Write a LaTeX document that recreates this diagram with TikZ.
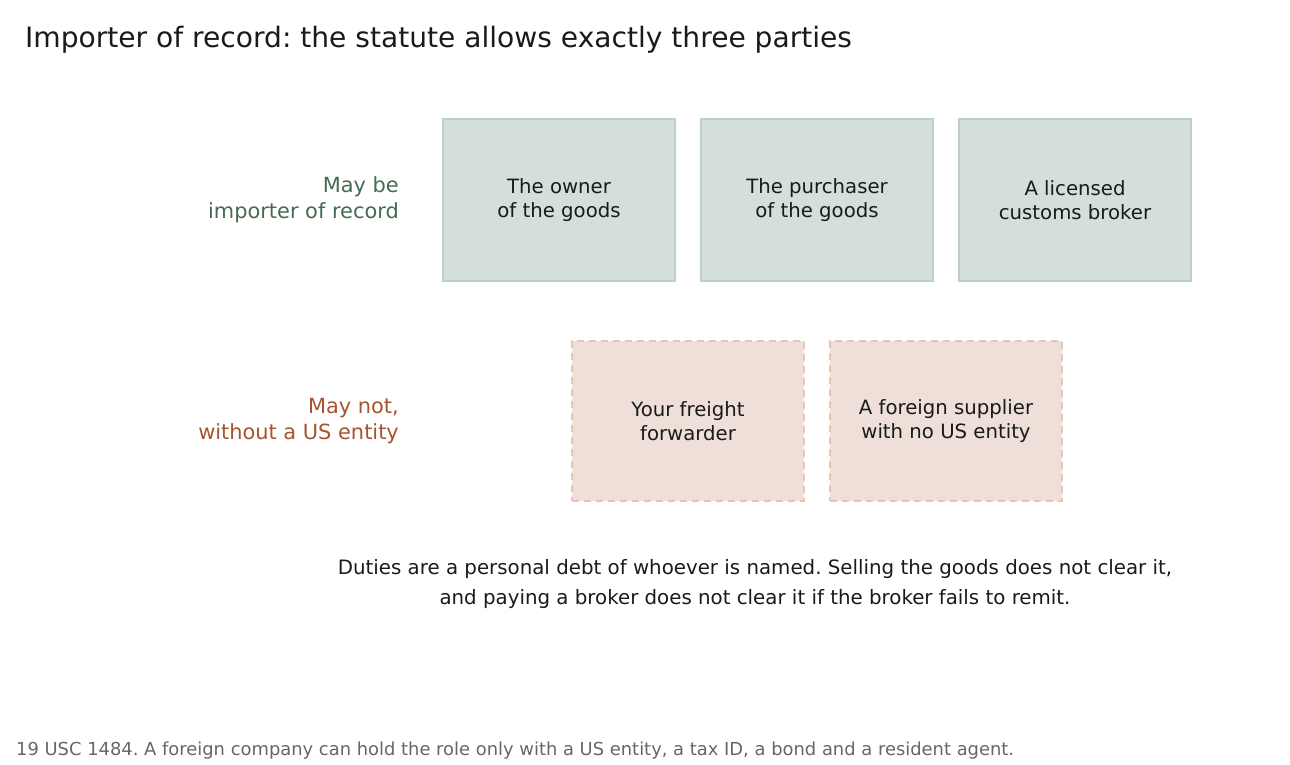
\documentclass[tikz,border=0pt]{standalone}
\usepackage{fontspec}
\setmainfont{DejaVu Sans}
\frenchspacing
\definecolor{gfill}{HTML}{D4DFD9}
\definecolor{gline}{HTML}{BFCFC6}
\definecolor{rfill}{HTML}{EEE0D8}
\definecolor{rline}{HTML}{E4C5B6}
\definecolor{gtext}{HTML}{466B52}
\definecolor{rtext}{HTML}{A8532C}
\definecolor{ink}{HTML}{1A1A1A}
\definecolor{foot}{HTML}{666666}
\tikzset{
  okbox/.style={draw=gline, fill=gfill, line width=2pt, minimum width=232pt, minimum height=161pt, align=center, font=\fontsize{19.7}{24}\selectfont, text=ink, inner sep=0pt},
  nobox/.style={draw=rline, fill=rfill, line width=2.2pt, dash pattern=on 7pt off 5pt, minimum width=232pt, minimum height=160pt, align=center, font=\fontsize{19.7}{24}\selectfont, text=ink, inner sep=0pt},
  rowlabel/.style={anchor=east, align=right, font=\fontsize{20.9}{26}\selectfont, inner sep=0pt}
}
\begin{document}
\begin{tikzpicture}[x=1pt,y=-1pt]
\useasboundingbox (0,0) rectangle (1290,765);
\node[anchor=base west, inner sep=0pt, text=ink, font=\fontsize{28.1}{32}\selectfont] (title) at (25,47.5) {Importer of record: the statute allows exactly three parties};
\node[okbox] (owner) at (559,200) {The owner\\of the goods};
\node[okbox] (purch) at (817,200) {The purchaser\\of the goods};
\node[okbox] (broker) at (1075,200) {A licensed\\customs broker};
\node[nobox] (fwd) at (688,421) {Your freight\\forwarder};
\node[nobox] (supp) at (946,421) {A foreign supplier\\with no US entity};
\node[rowlabel, text=gtext] (lab1) at (399,200) {May be\\importer of record};
\node[rowlabel, text=rtext] (lab2) at (399,421) {May not,\\without a US entity};
\node[align=center, inner sep=0pt, text=ink, font=\fontsize{19.8}{30}\selectfont] (note) at (755,584) {Duties are a personal debt of whoever is named. Selling the goods does not clear it,\\and paying a broker does not clear it if the broker fails to remit.};
\node[anchor=base west, inner sep=0pt, text=foot, font=\fontsize{17.9}{20}\selectfont] (foot) at (16,755) {19 USC 1484. A foreign company can hold the role only with a US entity, a tax ID, a bond and a resident agent.};
\end{tikzpicture}
\end{document}
